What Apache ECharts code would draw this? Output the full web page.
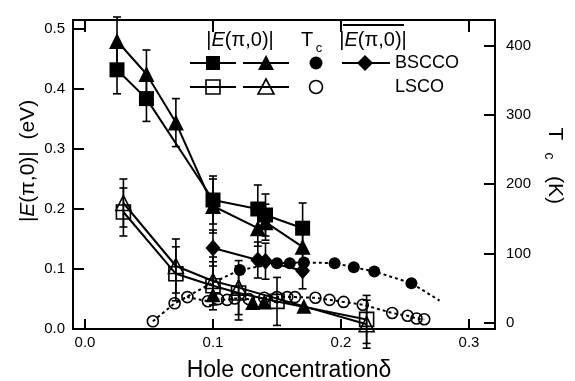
<!DOCTYPE html>
<html><head><meta charset="utf-8">
<script src="https://cdn.jsdelivr.net/npm/echarts@6/dist/echarts.min.js"></script>
<style>html,body{margin:0;padding:0;background:#fff}#c{width:575px;height:381px}</style>
</head><body><div id="c"></div>
<script>
// ---- tick labels ----
const xTicks = [0, 0.1, 0.2, 0.3];
const yLeftTicks = [0, 0.1, 0.2, 0.3, 0.4, 0.5];
const yRightTicks = [0, 100, 200, 300, 400];

// ---- BSCCO |E(pi,0)| squares ----
const bsSqX   = [0.025, 0.048, 0.100, 0.135, 0.141, 0.170];
const bsSqE   = [0.432, 0.384, 0.215, 0.200, 0.190, 0.168];
const bsSqErr = [0.040, 0.038, 0.040, 0.040, 0.035, 0.042];
// ---- BSCCO |E(pi,0)| triangles ----
const bsTrX   = [0.025, 0.048, 0.071, 0.100, 0.135, 0.141, 0.170];
const bsTrE   = [0.480, 0.425, 0.344, 0.205, 0.168, 0.178, 0.137];
const bsTrErr = [0.040, 0.040, 0.040, 0.045, 0.030, 0.030, 0.030];
// ---- BSCCO averaged |E(pi,0)| diamonds ----
const bsDiX   = [0.100, 0.135, 0.141, 0.170];
const bsDiE   = [0.135, 0.115, 0.113, 0.097];
const bsDiErr = [0.030, 0.030, 0.030, 0.030];
// ---- low filled triangles ----
const lowTrX  = [0.100, 0.131, 0.140, 0.171];
const lowTrE  = [0.057, 0.044, 0.045, 0.038];
// ---- LSCO |E(pi,0)| open squares ----
const lsSqX   = [0.030, 0.071, 0.100, 0.120, 0.150, 0.220];
const lsSqE   = [0.195, 0.092, 0.072, 0.060, 0.046, 0.016];
const lsSqErr = [0.040, 0.045, 0.040, 0.045, 0.040, 0.040];
// ---- LSCO |E(pi,0)| open triangles ----
const lsTrX   = [0.030, 0.071, 0.100, 0.120, 0.220];
const lsTrE   = [0.210, 0.105, 0.080, 0.069, 0.008];
const lsTrErr = [0.040, 0.045, 0.040, 0.045, 0.040];
// ---- BSCCO Tc (K) ----
const bsTcX = [0.121, 0.150, 0.160, 0.171, 0.195, 0.210, 0.226, 0.255];
const bsTcT = [76, 86, 86, 87, 86, 80, 74, 57];
const bsCurveX = [0.072, 0.100, 0.121, 0.150, 0.171, 0.195, 0.210, 0.226, 0.255, 0.277];
const bsCurveT = [30, 58, 76, 86, 87, 86, 80, 74, 57, 32];
// ---- LSCO Tc (K) ----
const lsTcX = [0.053, 0.070, 0.080, 0.096, 0.104, 0.111, 0.117, 0.128, 0.140, 0.150, 0.158, 0.164, 0.180, 0.191, 0.202, 0.217, 0.240, 0.252, 0.259, 0.265];
const lsTcT = [2, 28, 37, 31, 34, 33, 35, 34, 36, 37, 37, 37, 36, 33, 30, 26, 14, 10, 6, 5];

const zip = (a, b) => a.map((v, i) => [v, b[i]]);
const zip3 = (a, b, c) => a.map((v, i) => [v, b[i], c[i]]);
const errData = [].concat(
  zip3(lsSqX, lsSqE, lsSqErr), zip3(lsTrX, lsTrE, lsTrErr),
  zip3(bsSqX, bsSqE, bsSqErr), zip3(bsTrX, bsTrE, bsTrErr), zip3(bsDiX, bsDiE, bsDiErr));

const FONT = 'Liberation Sans, Arial, Helvetica, sans-serif';
const BLACK = '#000';
const OPEN = 'rgba(0,0,0,0)';

const chart = echarts.init(document.getElementById('c'), null, {renderer: 'canvas'});

function lineSeries(name, data, symbol, size, filled, yAxisIndex, dotted) {
  return {
    name, type: 'line', data, symbol, symbolSize: size, yAxisIndex: yAxisIndex || 0,
    lineStyle: {color: BLACK, width: 2, type: dotted ? [3, 3] : 'solid'},
    itemStyle: filled ? {color: BLACK, borderWidth: 0, opacity: 1} : {color: OPEN, borderColor: BLACK, borderWidth: 1.6, opacity: 1},
    z: 3, animation: false
  };
}

const legendY1 = 63, legendY2 = 87;
function legLine(x1, x2, y) {
  return {type: 'line', shape: {x1, y1: y, x2, y2: y}, style: {stroke: BLACK, lineWidth: 2}};
}
function legSquare(cx, cy, filled) {
  return {type: 'rect', shape: {x: cx - 7, y: cy - 7, width: 14, height: 14},
    style: {fill: filled ? BLACK : OPEN, stroke: BLACK, lineWidth: filled ? 0 : 1.6}, z: 10};
}
function legTri(cx, cy, filled) {
  return {type: 'polygon', shape: {points: [[cx, cy - 8], [cx + 8, cy + 7], [cx - 8, cy + 7]]},
    style: {fill: filled ? BLACK : OPEN, stroke: BLACK, lineWidth: filled ? 0 : 1.6}, z: 10};
}

const option = {
  animation: false,
  backgroundColor: '#fff',
  grid: {left: 73, right: 80, top: 20, bottom: 52, containLabel: false},
  xAxis: [{
    type: 'value', min: -0.009375, max: 0.3203, position: 'bottom',
    axisLine: {show: true, onZero: false, lineStyle: {color: BLACK, width: 2}},
    axisTick: {show: true, inside: true, length: 10, lineStyle: {color: BLACK, width: 2}, customValues: xTicks},
    axisLabel: {show: true, margin: 6, color: BLACK, fontSize: 15, fontFamily: FONT,
      customValues: xTicks, formatter: v => v.toFixed(1)},
    splitLine: {show: false}
  }, {
    type: 'value', min: -0.009375, max: 0.3203, position: 'top',
    axisLine: {show: true, onZero: false, lineStyle: {color: BLACK, width: 2}},
    axisTick: {show: true, inside: true, length: 12, lineStyle: {color: BLACK, width: 2}, customValues: xTicks},
    axisLabel: {show: false},
    splitLine: {show: false}
  }],
  yAxis: [{
    type: 'value', min: 0, max: 0.515, interval: 0.1, position: 'left',
    axisLine: {show: true, onZero: false, lineStyle: {color: BLACK, width: 2}},
    axisTick: {show: true, inside: true, length: 11, lineStyle: {color: BLACK, width: 2}, customValues: yLeftTicks},
    axisLabel: {show: true, margin: 8, color: BLACK, fontSize: 15, fontFamily: FONT,
      customValues: yLeftTicks, formatter: v => v.toFixed(1)},
    splitLine: {show: false}
  }, {
    type: 'value', min: -9.1, max: 437.1, position: 'right',
    axisLine: {show: true, onZero: false, lineStyle: {color: BLACK, width: 2}},
    axisTick: {show: true, inside: true, length: 11, lineStyle: {color: BLACK, width: 2}, customValues: yRightTicks},
    axisLabel: {show: true, margin: 11, color: BLACK, fontSize: 15, fontFamily: FONT,
      customValues: yRightTicks, formatter: v => String(v)},
    splitLine: {show: false}
  }],
  series: [
    {
      type: 'custom', name: 'err', data: errData, xAxisIndex: 0, yAxisIndex: 0, z: 2, clip: false,
      encode: {x: 0, y: 1},
      renderItem: function (params, api) {
        const x = api.value(0), y = api.value(1), e = api.value(2);
        const t = api.coord([x, y + e]), b = api.coord([x, y - e]);
        const w = 4, st = {stroke: BLACK, lineWidth: 1.6};
        return {type: 'group', children: [
          {type: 'line', shape: {x1: t[0], y1: t[1], x2: b[0], y2: b[1]}, style: st},
          {type: 'line', shape: {x1: t[0] - w, y1: t[1], x2: t[0] + w, y2: t[1]}, style: st},
          {type: 'line', shape: {x1: b[0] - w, y1: b[1], x2: b[0] + w, y2: b[1]}, style: st}
        ]};
      }
    },
    lineSeries('LSCO Tc', zip(lsTcX, lsTcT), 'circle', 11, false, 1, true),
    lineSeries('BSCCO Tc curve', zip(bsCurveX, bsCurveT), 'none', 0, true, 1, true),
    {name: 'BSCCO Tc', type: 'scatter', yAxisIndex: 1, data: zip(bsTcX, bsTcT), symbol: 'circle', symbolSize: 12,
      itemStyle: {color: BLACK, opacity: 1}, z: 4},
    lineSeries('LSCO square', zip(lsSqX, lsSqE), 'rect', 14, false),
    lineSeries('LSCO triangle', zip(lsTrX, lsTrE), 'triangle', 15, false),
    {name: 'low triangle', type: 'scatter', data: zip(lowTrX, lowTrE), symbol: 'triangle', symbolSize: 15,
      itemStyle: {color: BLACK, opacity: 1}, z: 4},
    lineSeries('BSCCO diamond', zip(bsDiX, bsDiE), 'diamond', [15, 17], true),
    lineSeries('BSCCO triangle', zip(bsTrX, bsTrE), 'triangle', 16, true),
    lineSeries('BSCCO square', zip(bsSqX, bsSqE), 'rect', 15, true)
  ],
  graphic: [
    // legend header
    {type: 'text', x: 240, y: 40, z: 10, style: {text: '|{i|E}(π,0)|', fontSize: 20, fontFamily: FONT, fill: BLACK,
      align: 'center', verticalAlign: 'middle', rich: {i: {fontStyle: 'italic', fontSize: 20, fontFamily: FONT}}}},
    {type: 'text', x: 307, y: 40, z: 10, style: {text: 'T', fontSize: 20, fontFamily: FONT, fill: BLACK, align: 'center', verticalAlign: 'middle'}},
    {type: 'text', x: 319, y: 48, z: 10, style: {text: 'c', fontSize: 13, fontFamily: FONT, fill: BLACK, align: 'center', verticalAlign: 'middle'}},
    {type: 'text', x: 373, y: 40, z: 10, style: {text: '|{i|E}(π,0)|', fontSize: 20, fontFamily: FONT, fill: BLACK,
      align: 'center', verticalAlign: 'middle', rich: {i: {fontStyle: 'italic', fontSize: 20, fontFamily: FONT}}}},
    {type: 'line', z: 10, shape: {x1: 343, y1: 25, x2: 404, y2: 25}, style: {stroke: BLACK, lineWidth: 2}},
    // legend row 1
    legLine(190, 236, legendY1), legSquare(213, legendY1, true),
    legLine(243, 289, legendY1), legTri(266, legendY1, true),
    {type: 'circle', z: 10, shape: {cx: 316, cy: legendY1, r: 6.5}, style: {fill: BLACK}},
    legLine(342, 390, legendY1),
    {type: 'polygon', z: 10, shape: {points: [[365, legendY1 - 8], [373, legendY1], [365, legendY1 + 8], [357, legendY1]]}, style: {fill: BLACK}},
    {type: 'text', x: 395, y: legendY1, z: 10, style: {text: 'BSCCO', fontSize: 18, fontFamily: FONT, fill: BLACK, align: 'left', verticalAlign: 'middle'}},
    // legend row 2
    legLine(190, 236, legendY2), legSquare(213, legendY2, false),
    legLine(243, 289, legendY2), legTri(266, legendY2, false),
    {type: 'circle', z: 10, shape: {cx: 316, cy: legendY2, r: 6.5}, style: {fill: OPEN, stroke: BLACK, lineWidth: 1.6}},
    {type: 'text', x: 395, y: legendY2, z: 10, style: {text: 'LSCO', fontSize: 18, fontFamily: FONT, fill: BLACK, align: 'left', verticalAlign: 'middle'}},
    // axis titles
    {type: 'text', x: 28, y: 161, rotation: Math.PI / 2, z: 10, style: {text: '|{i|E}(π,0)|  (eV)', fontSize: 21, fontFamily: FONT, fill: BLACK,
      align: 'center', verticalAlign: 'middle', rich: {i: {fontStyle: 'italic', fontSize: 21, fontFamily: FONT}}}},
    {type: 'text', x: 555, y: 134, rotation: -Math.PI / 2, z: 10, style: {text: 'T', fontSize: 21, fontFamily: FONT, fill: BLACK, align: 'center', verticalAlign: 'middle'}},
    {type: 'text', x: 549, y: 156, rotation: -Math.PI / 2, z: 10, style: {text: 'c', fontSize: 14, fontFamily: FONT, fill: BLACK, align: 'center', verticalAlign: 'middle'}},
    {type: 'text', x: 555, y: 190, rotation: -Math.PI / 2, z: 10, style: {text: '(K)', fontSize: 21, fontFamily: FONT, fill: BLACK, align: 'center', verticalAlign: 'middle'}},
    {type: 'text', x: 289, y: 371, z: 10, style: {text: 'Hole concentrationδ', fontSize: 23, fontFamily: FONT, fill: BLACK, align: 'center', verticalAlign: 'middle'}}
  ]
};
chart.setOption(option);
</script>
</body></html>
